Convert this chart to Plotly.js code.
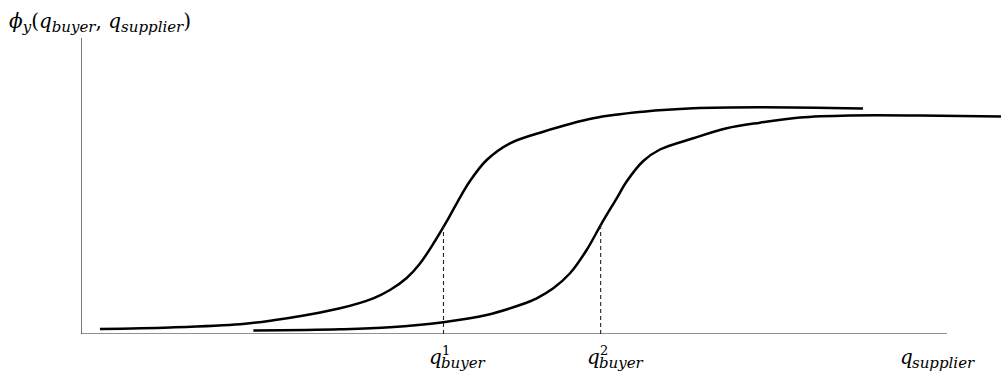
<!DOCTYPE html>
<html>
<head>
<meta charset="utf-8">
<script src="https://cdn.plot.ly/plotly-3.0.1.min.js"></script>
<style>html,body{margin:0;padding:0;background:#fff;}#chart{width:1001px;height:371px;}</style>
</head>
<body>
<div id="chart"></div>
<script>
// Curve 1 (buyer 1)
const curve1X = [0.219, 1.028, 1.836, 2.221, 2.606, 2.991, 3.375, 3.568, 3.761, 3.915, 4.088, 4.226, 4.353, 4.492, 4.685, 4.954, 5.338, 5.916, 6.493, 7.070, 7.841, 9.030];
const curve1Y = [0.0169, 0.0220, 0.0328, 0.0463, 0.0642, 0.0868, 0.1206, 0.1486, 0.1892, 0.2382, 0.3142, 0.3818, 0.4493, 0.5169, 0.5878, 0.6443, 0.6834, 0.7287, 0.7510, 0.7625, 0.7659, 0.7618];
// Curve 2 (buyer 2)
const curve2X = [1.990, 2.991, 3.568, 4.184, 4.685, 5.069, 5.262, 5.454, 5.647, 5.839, 6.013, 6.186, 6.301, 6.493, 6.686, 7.070, 7.456, 7.841, 8.303, 8.880, 9.688, 10.624];
const curve2Y = [0.0118, 0.0159, 0.0226, 0.0399, 0.0642, 0.0980, 0.1206, 0.1544, 0.2051, 0.2838, 0.3740, 0.4584, 0.5152, 0.5845, 0.6233, 0.6611, 0.6949, 0.7139, 0.7314, 0.7382, 0.7382, 0.7348];
// Marked points q_buyer^1, q_buyer^2
const markX = [4.186, 6.001];
const markY = [0.362, 0.368];
const markSup = ['1', '2'];
const tickMain = 'q';
const tickSub = 'buyer';
const xLabelX = 9.47;
const xLabelMain = 'q';
const xLabelSub = 'supplier';
const axisXMax = 10;
const axisYMax = 1;

const font = 'DejaVu Serif, serif';
const traces = [
  {x: curve1X, y: curve1Y, mode: 'lines', line: {color: '#000', width: 2.5, shape: 'spline', smoothing: 1}, hoverinfo: 'skip'},
  {x: curve2X, y: curve2Y, mode: 'lines', line: {color: '#000', width: 2.5, shape: 'spline', smoothing: 1}, hoverinfo: 'skip'}
];
markX.forEach((mx, i) => {
  traces.push({x: [mx, mx], y: [0, markY[i]], mode: 'lines', line: {color: '#222', width: 1.1, dash: '4px,3px'}, hoverinfo: 'skip'});
});
// axes lines
traces.push({x: [0, 0, axisXMax], y: [axisYMax, 0, 0], mode: 'lines', line: {color: '#222', width: 1.2}, hoverinfo: 'skip'});

function ann(x, xref, xshift, yshift, text, size) {
  return {xref: xref, yref: 'paper', x: x, y: 0, xshift: xshift, yshift: yshift, xanchor: 'left', yanchor: 'middle',
    showarrow: false, borderpad: 0, text: text, font: {family: font, size: size, color: '#000'}};
}
const annotations = [
  {xref: 'paper', yref: 'paper', x: 0, y: 1, xshift: -73, yshift: 16, xanchor: 'left', yanchor: 'middle', showarrow: false, borderpad: 0,
   text: '<i>ϕ</i><sub><i><span style="font-size:15px">y</span></i></sub>(<i>q</i><sub><i><span style="font-size:15px">buyer</span></i></sub>, <i>q</i><sub><i><span style="font-size:15px">supplier</span></i></sub>)',
   font: {family: font, size: 20, color: '#000'}},
  ann(xLabelX, 'x', -2, -23, '<i>' + xLabelMain + '</i>', 20),
  ann(xLabelX, 'x', 10, -29, '<i>' + xLabelSub + '</i>', 15)
];
markX.forEach((mx, i) => {
  annotations.push(ann(mx, 'x', -15, -23, '<i>' + tickMain + '</i>', 20));
  annotations.push(ann(mx, 'x', -3, -29, '<i>' + tickSub + '</i>', 15));
  annotations.push(ann(mx, 'x', -2, -16, markSup[i], 13));
});

const layout = {
  width: 1001, height: 371,
  margin: {l: 81, r: 0, t: 38, b: 37},
  paper_bgcolor: '#fff', plot_bgcolor: '#fff',
  showlegend: false,
  xaxis: {range: [0, 10.624], visible: false, fixedrange: true},
  yaxis: {range: [0, 1], visible: false, fixedrange: true},
  annotations: annotations
};
Plotly.newPlot('chart', traces, layout, {staticPlot: true, displayModeBar: false});
</script>
</body>
</html>
